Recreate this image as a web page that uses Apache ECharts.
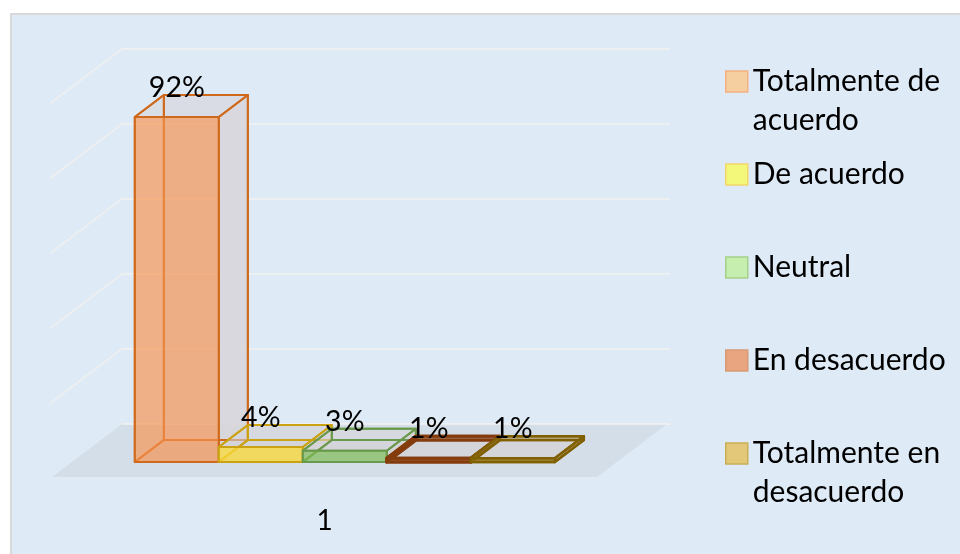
<!DOCTYPE html>
<html>
<head>
<meta charset="utf-8">
<style>html,body{margin:0;padding:0;background:#fff}#c{width:960px;height:554px}</style>
<script src="https://cdn.jsdelivr.net/npm/echarts@6/dist/echarts.min.js"></script>
</head>
<body>
<div id="c"></div>
<script>
const categories = ['1'];
const seriesNames = ['Totalmente de acuerdo','De acuerdo','Neutral','En desacuerdo','Totalmente en desacuerdo'];
const legendLines = ['Totalmente de\nacuerdo','De acuerdo','Neutral','En desacuerdo','Totalmente en\ndesacuerdo'];
const seriesValues = [92,4,3,1,1];
const gridTicks = [0,20,40,60,80,100];
const frontFills = ['rgba(247,145,78,0.66)','rgba(250,218,60,0.78)','rgba(125,190,85,0.66)','rgba(150,70,20,0.7)','rgba(150,115,20,0.7)'];
const lineColors = ['#cf6a1c','#cba312','#69994c','#843c0c','#806000'];
const lineWidths = [2,2,2,3.2,2.4];
const legendFills = ['#f5cf9f','#f3f87b','#c5eeaf','#e8a57f','#e2c878'];
const legendBorders = ['#f4b183','#f2d86b','#a5d08a','#d99a75','#c9ae55'];
const FONT = 'Lato';

const DX = 70, DY = -53;           // floor depth in pixels
const Z0 = 0.283, Z1 = 0.698;      // bar front / back depth
const BAR = 84;

function barItem(i){
  return function(params, api){
    const v = api.value(1);
    const base = api.coord([0,0]);
    const top = api.coord([0,v]);
    const x0 = base[0] + (i - seriesNames.length/2) * BAR + 0.5;
    const x1 = x0 + BAR;
    const P = (x,y,z)=>[x+DX*z, y+DY*z];
    const yb = base[1], yt = top[1];
    const stroke = {stroke: lineColors[i], lineWidth: lineWidths[i], lineJoin:'round'};
    const fillQ = (pts, fill)=>({type:'polygon', shape:{points:pts}, style:{fill:fill}});
    const edgeQ = (pts)=>({type:'polygon', shape:{points:pts}, style:Object.assign({fill:'none'},stroke)});
    const floorQ = [P(x0,yb,Z0),P(x1,yb,Z0),P(x1,yb,Z1),P(x0,yb,Z1)];
    const backQ  = [P(x0,yb,Z1),P(x1,yb,Z1),P(x1,yt,Z1),P(x0,yt,Z1)];
    const leftQ  = [P(x0,yb,Z0),P(x0,yb,Z1),P(x0,yt,Z1),P(x0,yt,Z0)];
    const rightQ = [P(x1,yb,Z0),P(x1,yb,Z1),P(x1,yt,Z1),P(x1,yt,Z0)];
    const topQ   = [P(x0,yt,Z0),P(x1,yt,Z0),P(x1,yt,Z1),P(x0,yt,Z1)];
    const frontQ = [P(x0,yb,Z0),P(x1,yb,Z0),P(x1,yt,Z0),P(x0,yt,Z0)];
    const f = P((x0+x1)/2, yt, Z0);
    return {type:'group', children:[
      fillQ(floorQ,'rgba(205,205,205,0.45)'),
      fillQ(backQ,'rgba(220,220,225,0.35)'),
      fillQ(rightQ,'rgba(215,210,215,0.72)'),
      fillQ(topQ,'rgba(214,214,218,0.55)'),
      edgeQ(floorQ), edgeQ(backQ), edgeQ(leftQ), edgeQ(rightQ), edgeQ(topQ),
      {type:'polygon', shape:{points:frontQ}, style:Object.assign({fill:frontFills[i]},stroke)},
      {type:'text', z2:100, style:{text:v+'%', x:f[0], y:f[1]-29, align:'center', verticalAlign:'middle',
        font:'28.5px '+FONT, fill:'#000'}}
    ]};
  };
}

function wallItem(params, api){
  const v = api.value(1);
  const c = api.coord([0,v]);
  const w = api.size([1,0])[0];
  const left = c[0]-w/2;
  const line = 'rgba(240,240,240,0.8)';
  const kids = [];
  if (v === 0){
    kids.push({type:'polygon', shape:{points:[[left,c[1]],[left+w,c[1]],[left+w+DX,c[1]+DY],[left+DX,c[1]+DY]]},
      style:{fill:'rgba(190,195,200,0.3)'}});
    kids.push({type:'line', shape:{x1:left+DX,y1:c[1]+DY,x2:left+w+DX+3,y2:c[1]+DY}, style:{stroke:line,lineWidth:1.8}});
  } else {
    kids.push({type:'polyline', shape:{points:[[left-2,c[1]+1.5],[left+DX,c[1]+DY],[left+w+DX+3,c[1]+DY]]},
      style:{fill:'none', stroke:line, lineWidth:1.8}});
  }
  return {type:'group', children:kids};
}

const chart = echarts.init(document.getElementById('c'), null, {renderer:'canvas'});
chart.setOption({
  animation:false,
  backgroundColor:'#fff',
  graphic:[{type:'rect', z:-10, silent:true, shape:{x:11,y:14,width:960,height:560},
    style:{fill:'#deeaf6', stroke:'#d9d9d9', lineWidth:2}}],
  grid:{left:52, width:545, top:102, height:375},
  xAxis:{type:'category', data:categories, axisLine:{show:false}, axisTick:{show:false},
    splitLine:{show:false}, axisLabel:{fontFamily:FONT, fontSize:28, color:'#000', margin:30}},
  yAxis:{type:'value', min:0, max:100, interval:20, show:false},
  legend:{
    orient:'vertical', left:720, top:18, itemWidth:22, itemHeight:21, itemGap:-24, selectedMode:false,
    icon:'rect',
    data:seriesNames.map((n,i)=>({name:n, itemStyle:{color:legendFills[i], borderColor:legendBorders[i], borderWidth:1.5}})),
    formatter:function(name){
      const t = legendLines[seriesNames.indexOf(name)];
      return '\n'+t+(t.indexOf('\n')<0?'\n ':'');
    },
    textStyle:{fontFamily:FONT, fontSize:30, lineHeight:39, color:'#000'}
  },
  series:[
    {type:'custom', name:'grid', silent:true, z:1, clip:false, renderItem:wallItem,
     encode:{x:0,y:1}, data:gridTicks.map(t=>[0,t])}
  ].concat(seriesNames.map((n,i)=>({
    type:'custom', name:n, z:2+i, clip:false, renderItem:barItem(i),
    itemStyle:{color:legendFills[i]}, encode:{x:0,y:1}, data:[[0,seriesValues[i]]]
  })))
});
</script>
</body>
</html>
